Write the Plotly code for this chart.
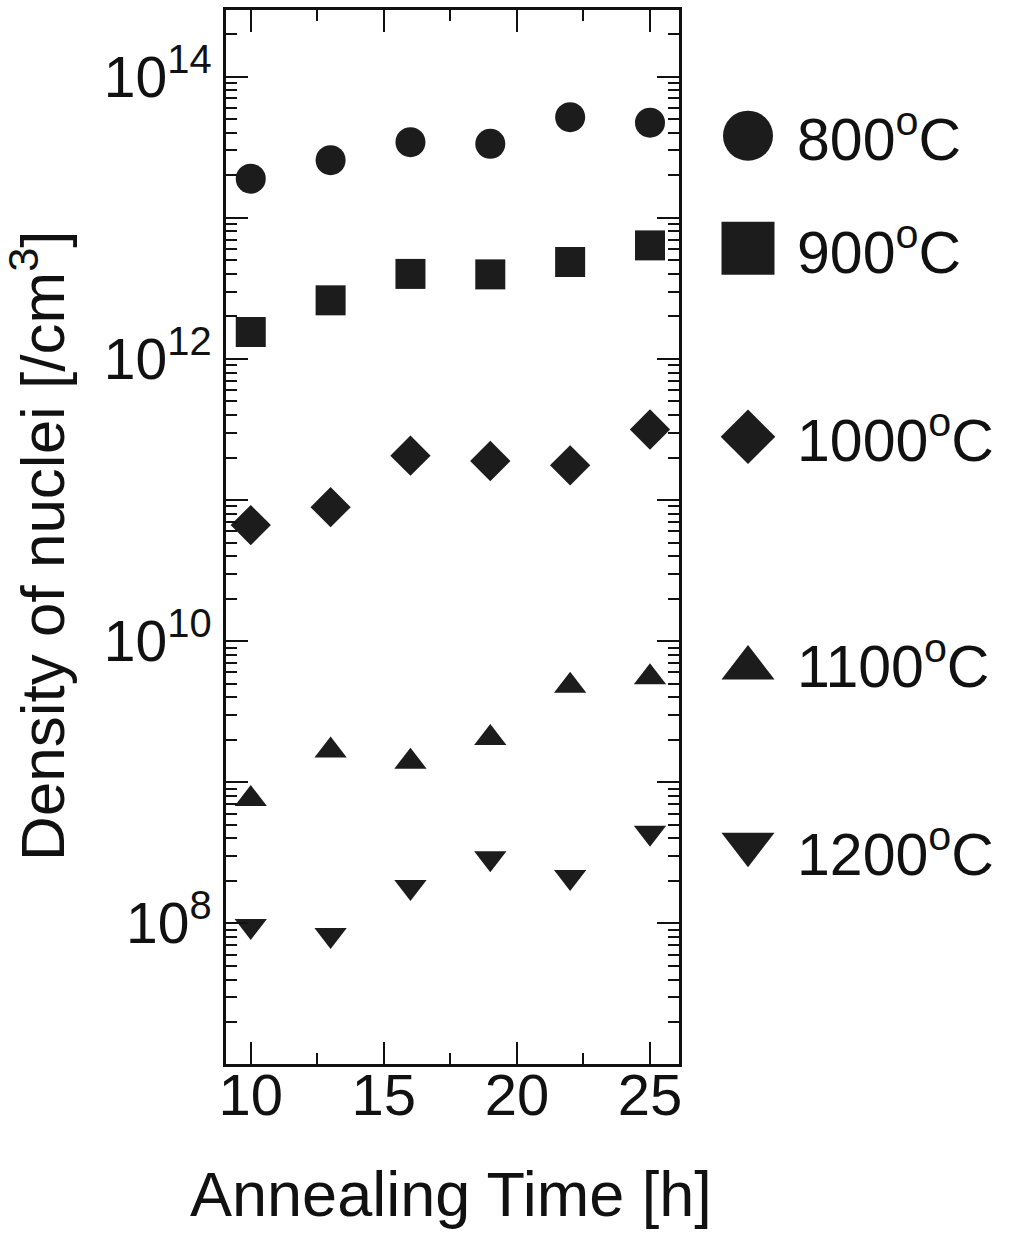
import plotly.graph_objects as go

# ---------------- data ----------------
hours = [10, 13, 16, 19, 22, 25]
series_names = ["800<sup>o</sup>C", "900<sup>o</sup>C", "1000<sup>o</sup>C", "1100<sup>o</sup>C", "1200<sup>o</sup>C"]
d800 = [1.89e13, 2.56e13, 3.43e13, 3.34e13, 5.16e13, 4.72e13]
d900 = [1.55e12, 2.60e12, 4.00e12, 3.97e12, 4.86e12, 6.37e12]
d1000 = [6.64e10, 8.9e10, 2.06e11, 1.89e11, 1.76e11, 3.16e11]
d1100 = [7.6e8, 1.68e9, 1.40e9, 2.06e9, 4.84e9, 5.54e9]
d1200 = [9.6e7, 8.27e7, 1.81e8, 2.9e8, 2.13e8, 4.39e8]
series_values = [d800, d900, d1000, d1100, d1200]

x_tickvals = [10, 15, 20, 25]
y_decades = [7, 8, 9, 10, 11, 12, 13, 14]
y_labelled = [8, 10, 12, 14]

# ---------------- style ----------------
W, H = 1014, 1233
FONT = "Liberation Sans, Arial, Helvetica, sans-serif"
MARK = "#1c1c1c"
TXT = "#111"
symbols = ["circle", "square", "diamond", "triangle-up", "triangle-down"]
sizes = [30, 30, 31, 28, 28]
leg_sizes = [50, 53, 42, 46, 46]
# legend layout (pixel positions in figure)
leg_marker_x = 748
leg_marker_y = [135.7, 248.3, 436.7, 668.0, 844.2]
leg_text_x = 795
leg_text_y = [135, 248.5, 436, 662.5, 850]

# plot area in pixels
PL, PR, PT, PB = 226, 679, 10, 1064

fig = go.Figure()

for name, vals, sym, sz in zip(series_names, series_values, symbols, sizes):
    fig.add_trace(go.Scatter(
        x=hours, y=vals, mode="markers", name=name,
        marker=dict(symbol=sym, size=sz, color=MARK, opacity=1, line=dict(width=0)),
        xaxis="x", yaxis="y", showlegend=False, cliponaxis=False))

# legend markers on a pixel-coordinate helper axis
fig.add_trace(go.Scatter(
    x=[leg_marker_x] * len(symbols), y=leg_marker_y, mode="markers",
    marker=dict(symbol=symbols, size=leg_sizes, color=MARK, opacity=1, line=dict(width=0)),
    xaxis="x2", yaxis="y2", showlegend=False, cliponaxis=False))

annotations = []
for name, ty in zip(series_names, leg_text_y):
    annotations.append(dict(x=leg_text_x, y=ty, xref="x2", yref="y2", text=name,
                            showarrow=False, xanchor="left", yanchor="middle",
                            font=dict(family=FONT, size=59, color=TXT)))

annotations.append(dict(x=451 / W, y=1 - 1194 / H, xref="paper", yref="paper",
                        text="Annealing Time [h]", showarrow=False,
                        xanchor="center", yanchor="middle",
                        font=dict(family=FONT, size=63, color=TXT)))
annotations.append(dict(x=38 / W, y=1 - 546 / H, xref="paper", yref="paper",
                        text="Density of nuclei [/cm<sup>3</sup>]", showarrow=False,
                        textangle=-90, xanchor="center", yanchor="middle",
                        font=dict(family=FONT, size=62, color=TXT)))

minor_y = [k * 10 ** d for d in y_decades for k in range(2, 10)]
major_y = [10 ** d for d in y_decades]
major_y_text = [("10<sup>%d</sup>" % d) if d in y_labelled else "" for d in y_decades]

fig.update_layout(
    width=W, height=H,
    margin=dict(l=0, r=0, t=0, b=0),
    paper_bgcolor="white", plot_bgcolor="white",
    font=dict(family=FONT, color=TXT),
    showlegend=False,
    xaxis=dict(
        domain=[PL / W, PR / W], range=[9.07, 26.09],
        tickvals=x_tickvals, ticks="inside", ticklen=22, tickwidth=2, tickcolor=TXT,
        minor=dict(dtick=2.5, tick0=0, ticks="inside", ticklen=11, tickwidth=2, tickcolor=TXT),
        showline=True, linewidth=3, linecolor=TXT, mirror="allticks",
        showgrid=False, zeroline=False, automargin=False,
        ticklabelstandoff=-22,
        tickfont=dict(family=FONT, size=58, color=TXT),
    ),
    yaxis=dict(
        domain=[1 - PB / H, 1 - PT / H], type="log", range=[7.004, 14.472],
        tickvals=major_y, ticktext=major_y_text,
        ticks="inside", ticklen=22, tickwidth=2, tickcolor=TXT,
        minor=dict(tickvals=minor_y, ticks="inside", ticklen=11, tickwidth=2, tickcolor=TXT),
        showline=True, linewidth=3, linecolor=TXT, mirror="allticks",
        showgrid=False, zeroline=False, automargin=False,
        tickfont=dict(family=FONT, size=57, color=TXT),
    ),
    xaxis2=dict(domain=[0.68, 1.0], range=[0.68 * W, W], visible=False, anchor="y2"),
    yaxis2=dict(domain=[0, 1], range=[H, 0], visible=False, anchor="x2"),
    annotations=annotations,
)

fig.write_html("out.html")
